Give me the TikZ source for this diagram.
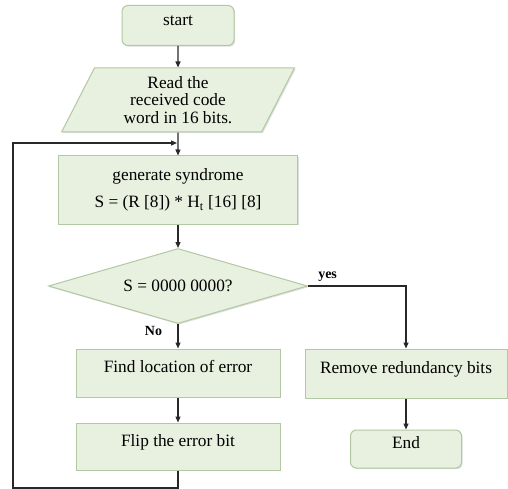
\documentclass[tikz,border=0pt]{standalone}
\usepackage{fontspec}
\setmainfont{Liberation Serif}
\usetikzlibrary{shapes.geometric,arrows.meta,shadows}
\definecolor{boxfill}{RGB}{232,241,224}
\definecolor{boxline}{RGB}{178,200,162}
\definecolor{flowline}{RGB}{40,40,40}
\tikzset{
  block/.style = {rectangle, fill=boxfill, draw=boxline, line width=1pt, inner sep=0pt,
    drop shadow={shadow xshift=1.2pt, shadow yshift=-1.2pt, opacity=0.25}},
  oneline/.style = {text height=12pt, text depth=12.8pt},
  terminal/.style = {block, oneline, rounded corners=6pt},
  process/.style = {block, oneline},
  inout/.style = {block, trapezium, trapezium left angle=66, trapezium right angle=114,
    trapezium stretches=true, align=center},
  decision/.style = {block, diamond, aspect=3.4},
  flow/.style = {->, draw=flowline, line width=1.3pt},
  branch/.style = {font=\fontsize{14}{16}\selectfont\bfseries}
}
\begin{document}
\begin{tikzpicture}[x=1pt, y=-1pt, >={Triangle[length=6pt,width=5pt]},
  font=\fontsize{17.3}{17.8}\selectfont]
\useasboundingbox (0,0) rectangle (508,489);
\node[terminal, minimum width=112, minimum height=40] (start) at (178,25.5) {start};
\node[inout, minimum width=233, minimum height=64] (read) at (178,100) {Read the\\received code\\word in 16 bits.};
\node[block, align=center, minimum width=239, minimum height=68] (gen) at (178,190)
  {generate syndrome\\[9pt] S = (R [8]) * H\textsubscript{t} [16] [8]};
\node[decision, minimum width=259, minimum height=75] (test) at (178,286) {S = 0000 0000?};
\node[process, minimum width=204, minimum height=48] (find) at (178,373) {Find location of error};
\node[process, minimum width=204, minimum height=47] (flip) at (178,446.5) {Flip the error bit};
\node[process, minimum width=202, minimum height=49] (remove) at (406,373.5) {Remove redundancy bits};
\node[terminal, minimum width=111, minimum height=38] (end) at (406,449) {End};
\coordinate (join) at (178,143);
\coordinate (loopcorner) at (13,488);
\draw[flow] (start) -- (read);
\draw[flow] (read.south) -- (gen.north);
\draw[flow] (gen) -- (test);
\draw[flow] (test.south) -- node[branch, left=12pt, pos=0.3] {No} (find.north);
\draw[flow] (test.east) -| node[branch, above, pos=0.1] {yes} (remove.north);
\draw[flow] (find) -- (flip);
\draw[flow] (remove) -- (end);
\draw[flow, shorten >=1pt] (flip.south) |- (loopcorner) |- (join);
\end{tikzpicture}
\end{document}
